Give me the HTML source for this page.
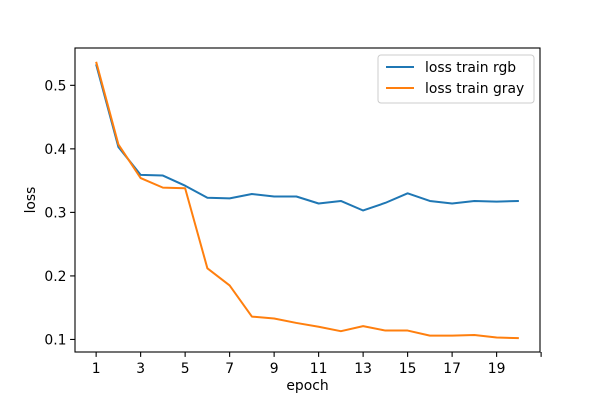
<!DOCTYPE html>
<html><head><meta charset="utf-8"><style>
body{margin:0;background:#fff;}
svg{font-family:"DejaVu Sans","Liberation Sans",sans-serif;}
</style></head><body>
<svg id="chart" width="600" height="400">
<rect x="0" y="0" width="600" height="400" fill="#fff"/>
<g id="plot"></g>
</svg>
<script>
const epochs=[1,2,3,4,5,6,7,8,9,10,11,12,13,14,15,16,17,18,19,20];
const lossRgb=[0.533,0.403,0.359,0.358,0.342,0.323,0.322,0.329,0.325,0.325,0.314,0.318,0.303,0.315,0.330,0.318,0.314,0.318,0.317,0.318];
const lossGray=[0.537,0.407,0.354,0.339,0.338,0.212,0.185,0.136,0.133,0.126,0.120,0.113,0.121,0.114,0.114,0.106,0.106,0.107,0.103,0.102];
const xTicks=[1,3,5,7,9,11,13,15,17,19,21];
const xTickLabels=["1","3","5","7","9","11","13","15","17","19",""];
const yTicks=[0.1,0.2,0.3,0.4,0.5];
const yTickLabels=["0.1","0.2","0.3","0.4","0.5"];

const L=75,R=540,T=48,B=352;
const xmin=0.05,xmax=20.95;
const all=lossRgb.concat(lossGray);
const dmin=Math.min(...all),dmax=Math.max(...all),m=(dmax-dmin)*0.05;
const ymin=dmin-m,ymax=dmax+m;
const xs=v=>L+(v-xmin)/(xmax-xmin)*(R-L);
const ys=v=>B-(v-ymin)/(ymax-ymin)*(B-T);
const NS="http://www.w3.org/2000/svg";
const g=document.getElementById('plot');
const FS=13.9;
function mk(tag,attrs,text){const e=document.createElementNS(NS,tag);for(const k in attrs)e.setAttribute(k,attrs[k]);if(text!==undefined)e.textContent=text;g.appendChild(e);return e;}

xTicks.forEach((t,i)=>{
 const x=xs(t);
 const tk=mk('line',{x1:x,x2:x,y1:B,y2:B+4.9,stroke:'#000','stroke-width':1.1});
 
 
 if(xTickLabels[i]){const lb=mk('text',{x:x,y:B+21,'font-size':FS,'text-anchor':'middle',fill:'#000'},xTickLabels[i]);
 
 }
});
yTicks.forEach((t,i)=>{
 const y=ys(t);
 const tk=mk('line',{x1:L-4.9,x2:L,y1:y,y2:y,stroke:'#000','stroke-width':1.1});
 
 
 const lb=mk('text',{x:L-8.5,y:y+5,'font-size':FS,'text-anchor':'end',fill:'#000'},yTickLabels[i]);
 
 
});
function line(vals,color,name){
 const p=mk('polyline',{points:vals.map((v,i)=>xs(epochs[i])+','+ys(v)).join(' '),fill:'none',stroke:color,'stroke-width':2,'stroke-linejoin':'round'});
 
 
}
line(lossRgb,'#1f77b4','line-loss-train-rgb');
line(lossGray,'#ff7f0e','line-loss-train-gray');
const fr=mk('rect',{x:L,y:T,width:R-L,height:B-T,fill:'none',stroke:'#000','stroke-width':1.1});


const xl=mk('text',{x:(L+R)/2,y:390,'font-size':FS,'text-anchor':'middle'},'epoch');


const yl=mk('text',{x:35,y:(T+B)/2,'font-size':FS,'text-anchor':'middle',transform:'rotate(-90 35 '+(T+B)/2+')'},'loss');


const lg=mk('rect',{x:378,y:55,width:156,height:48,rx:3,fill:'#fff','fill-opacity':0.8,stroke:'#ccc','stroke-width':1});


[['loss train rgb','#1f77b4',72],['loss train gray','#ff7f0e',93]].forEach(([t,c,y])=>{
 const s=mk('line',{x1:386,x2:414,y1:y-5,y2:y-5,stroke:c,'stroke-width':2});
 
 
 const tx=mk('text',{x:425,y:y,'font-size':FS},t);
 
 
});
</script>
</body></html>
